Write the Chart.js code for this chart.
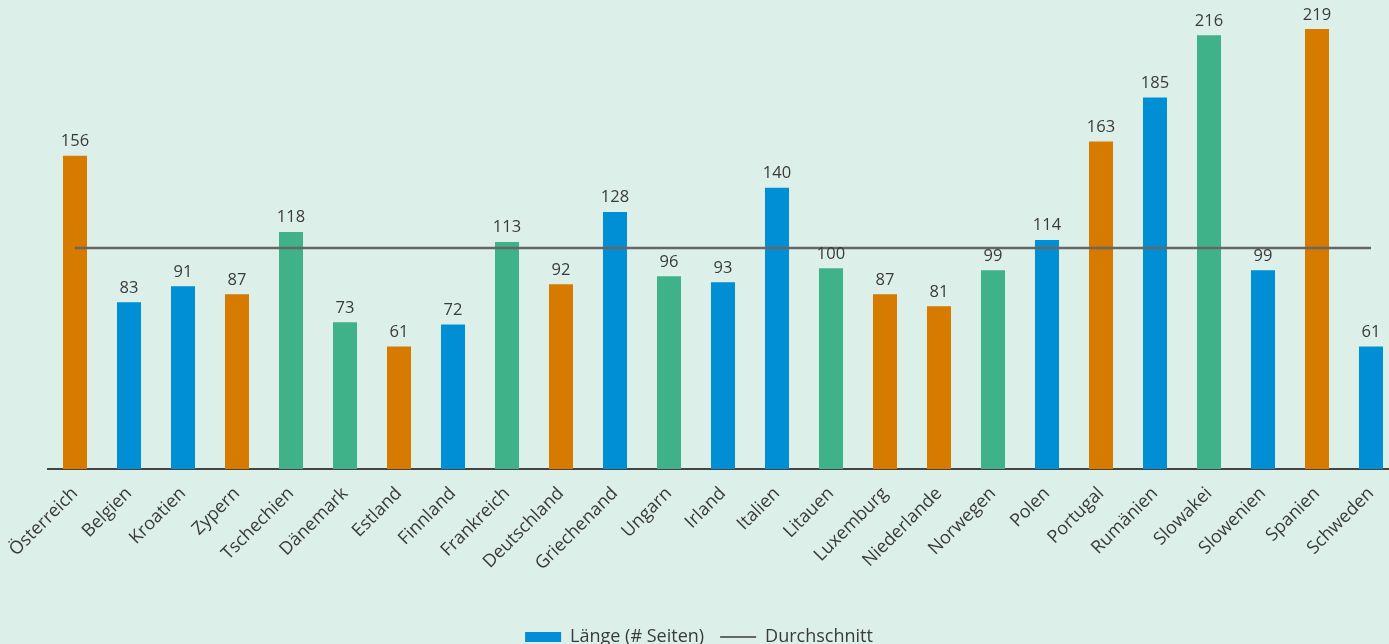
<!DOCTYPE html>
<html>
<head>
<meta charset="utf-8">
<script src="https://cdn.jsdelivr.net/npm/chart.js@4"></script>
<style>
  html, body { margin: 0; padding: 0; background: #dcf0e9; overflow: hidden; }
  #wrap { position: relative; width: 1398px; height: 656px; }
</style>
</head>
<body>
<div id="wrap"><canvas id="laenge"></canvas></div>
<script>
const laender = ["Österreich","Belgien","Kroatien","Zypern","Tschechien","Dänemark","Estland","Finnland","Frankreich","Deutschland","Griechenand","Ungarn","Irland","Italien","Litauen","Luxemburg","Niederlande","Norwegen","Polen","Portugal","Rumänien","Slowakei","Slowenien","Spanien","Schweden"];
const seiten = [156,83,91,87,118,73,61,72,113,92,128,96,93,140,100,87,81,99,114,163,185,216,99,219,61];
// Gruppe je Land (a = orange, b = blau, c = grün)
const gruppe = ["a","b","b","a","c","c","a","b","c","a","b","c","b","b","c","a","a","c","b","a","b","c","b","a","b"];
const durchschnitt = 110;

const farben = { a: "#d67a00", b: "#008fd5", c: "#40b28a" };
const textFarbe = "#3a3a3a";
const schrift = "'Open Sans', sans-serif";

const wertBeschriftung = {
    id: "wertBeschriftung",
    afterDatasetsDraw(chart) {
        const { ctx } = chart;
        const meta = chart.getDatasetMeta(0);
        ctx.save();
        ctx.font = "16.5px " + schrift;
        ctx.fillStyle = textFarbe;
        ctx.textAlign = "center";
        ctx.textBaseline = "bottom";
        meta.data.forEach((bar, i) => {
            ctx.fillText(seiten[i], bar.x, bar.y - 6);
        });
        ctx.restore();
    }
};

const ctx = document.getElementById("laenge").getContext("2d");
new Chart(ctx, {
    data: {
        labels: laender,
        datasets: [
            {
                type: "bar",
                label: "Länge (# Seiten)",
                data: seiten,
                backgroundColor: gruppe.map(g => farben[g]),
                barPercentage: 0.445,
                categoryPercentage: 1,
                order: 2
            },
            {
                type: "line",
                label: "Durchschnitt",
                data: laender.map(() => durchschnitt),
                borderColor: "#666666",
                borderWidth: 2.5,
                pointRadius: 0,
                fill: false,
                order: 1
            }
        ]
    },
    options: {
        responsive: true,
        maintainAspectRatio: false,
        animation: false,
        plugins: {
            tooltip: { enabled: false },
            legend: {
                position: "bottom",
                labels: {
                    color: textFarbe,
                    font: { size: 18, family: schrift },
                    usePointStyle: true,
                    pointStyleWidth: 36,
                    boxHeight: 10,
                    padding: 16,
                    generateLabels: () => [
                        { text: "Länge (# Seiten)", fillStyle: farben.b, strokeStyle: farben.b, lineWidth: 0, pointStyle: "rect", fontColor: textFarbe, datasetIndex: 0 },
                        { text: "Durchschnitt", fillStyle: "#666666", strokeStyle: "#666666", lineWidth: 2, pointStyle: "line", fontColor: textFarbe, datasetIndex: 1 }
                    ]
                }
            }
        },
        scales: {
            x: {
                grid: { display: false },
                border: { display: true, color: "#444444", width: 2 },
                ticks: {
                    color: textFarbe,
                    font: { size: 18, family: schrift },
                    minRotation: 45,
                    maxRotation: 45,
                    autoSkip: false,
                    padding: 6
                },
                afterFit(scale) {
                    scale.height = 143;
                    scale.paddingLeft = 48;
                    scale.paddingRight = 0;
                }
            },
            y: {
                display: false,
                min: 0,
                max: 233.5
            }
        }
    },
    plugins: [wertBeschriftung]
});
</script>
</body>
</html>
